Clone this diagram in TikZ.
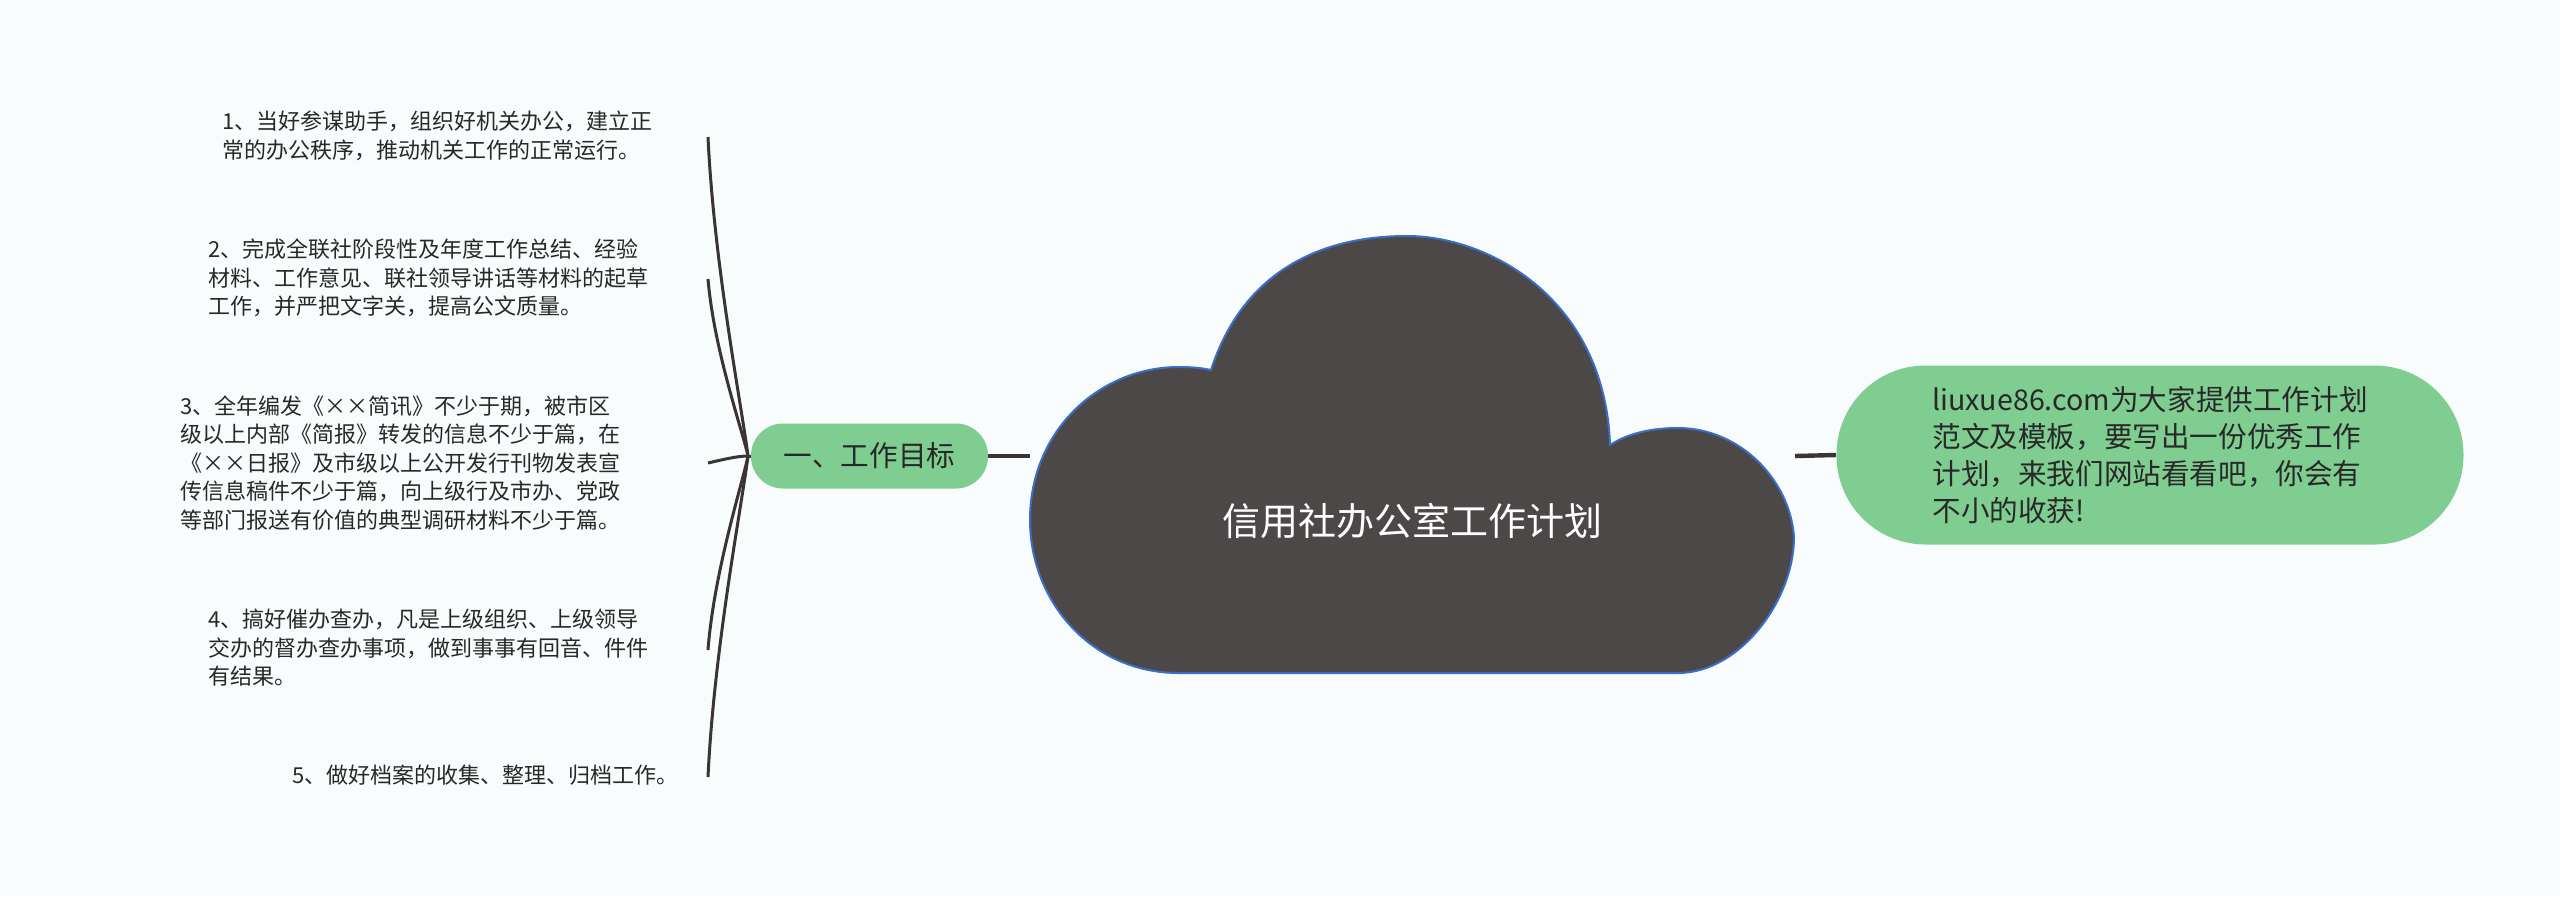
\documentclass[tikz,border=0pt]{standalone}
\usepackage{fontspec}
\setmainfont{Noto Sans CJK SC}
\definecolor{bg}{RGB}{249,252,253}
\definecolor{cloudfill}{RGB}{77,72,72}
\definecolor{cloudline}{RGB}{58,110,200}
\definecolor{pillgreen}{RGB}{128,205,146}
\definecolor{wire}{RGB}{58,52,52}
\definecolor{txt}{RGB}{40,40,40}
\begin{document}
\begin{tikzpicture}[x=0.5pt,y=-0.5pt,
  item/.style={anchor=west, inner sep=0pt, align=left, text=txt, font=\fontsize{11}{14.25}\selectfont},
  curve/.style={draw=wire, line width=1.5pt},
  link/.style={draw=wire, line width=2.2pt},
  pillbox/.style={fill=pillgreen, draw=none, text=txt}]
\fill[bg] (0,0) rectangle (2560,896);
\useasboundingbox (0,0) rectangle (2560,896);

% cloud
\filldraw[fill=cloudfill, draw=cloudline, line width=1pt]
  (1179,673) -- (1678,673)
  .. controls (1740,673) and (1794,600) .. (1794,537)
  .. controls (1790,480) and (1740,428) .. (1678,428)
  .. controls (1655,428) and (1630,432) .. (1610,445)
  .. controls (1605,300) and (1490,236) .. (1407,236)
  .. controls (1310,236) and (1240,280) .. (1211,370)
  .. controls (1202,368) and (1192,367) .. (1179,367)
  .. controls (1100,367) and (1030,430) .. (1030,520)
  .. controls (1030,600) and (1090,673) .. (1179,673) -- cycle;
\node[text=white, inner sep=0pt, font=\fontsize{19}{23}\selectfont] (root) at (1412,521) {信用社办公室工作计划};
\coordinate (cloudL) at (1030,456);
\coordinate (cloudR) at (1795,456);

% main branches
\node[pillbox, minimum width=118.5pt, minimum height=32.5pt, rounded corners=16pt, inner sep=0pt,
      font=\fontsize{14.3}{17}\selectfont] (goal) at (869.5,456) {一、工作目标};
\node[pillbox, minimum width=313.5pt, minimum height=89.5pt, rounded corners=44.5pt, inner sep=0pt,
      align=left, font=\fontsize{14.3}{18.35}\selectfont] (note) at (2150,455)
  {liuxue86.com为大家提供工作计划\\范文及模板，要写出一份优秀工作\\计划，来我们网站看看吧，你会有\\不小的收获!};
\draw[link] (goal.east) -- (cloudL);
\draw[link] (cloudR) -- (note.west);

% leaves
\node[item] (t1) at (222,136) {1、当好参谋助手，组织好机关办公，建立正\\常的办公秩序，推动机关工作的正常运行。};
\node[item] (t2) at (208,278) {2、完成全联社阶段性及年度工作总结、经验\\材料、工作意见、联社领导讲话等材料的起草\\工作，并严把文字关，提高公文质量。};
\node[item] (t3) at (180,463) {3、全年编发《××简讯》不少于期，被市区\\级以上内部《简报》转发的信息不少于篇，在\\《××日报》及市级以上公开发行刊物发表宣\\传信息稿件不少于篇，向上级行及市办、党政\\等部门报送有价值的典型调研材料不少于篇。};
\node[item] (t4) at (208,648) {4、搞好催办查办，凡是上级组织、上级领导\\交办的督办查办事项，做到事事有回音、件件\\有结果。};
\node[item] (t5) at (292,775) {5、做好档案的收集、整理、归档工作。};

\coordinate (J) at (748,456);
\coordinate (e1) at (708,137);
\coordinate (e2) at (708,279);
\coordinate (e3) at (708,463);
\coordinate (e4) at (708,650);
\coordinate (e5) at (708,777);
\draw[curve] (e1) .. controls (714,265) and (742,408) .. (J);
\draw[curve] (e2) .. controls (714,350) and (742,429) .. (J);
\draw[curve] (e3) .. controls (725,459) and (738,456) .. (J);
\draw[curve] (e4) .. controls (714,572) and (742,485) .. (J);
\draw[curve] (e5) .. controls (714,649) and (742,504) .. (J);
\draw[curve] (J) -- (goal.west);
\end{tikzpicture}
\end{document}
